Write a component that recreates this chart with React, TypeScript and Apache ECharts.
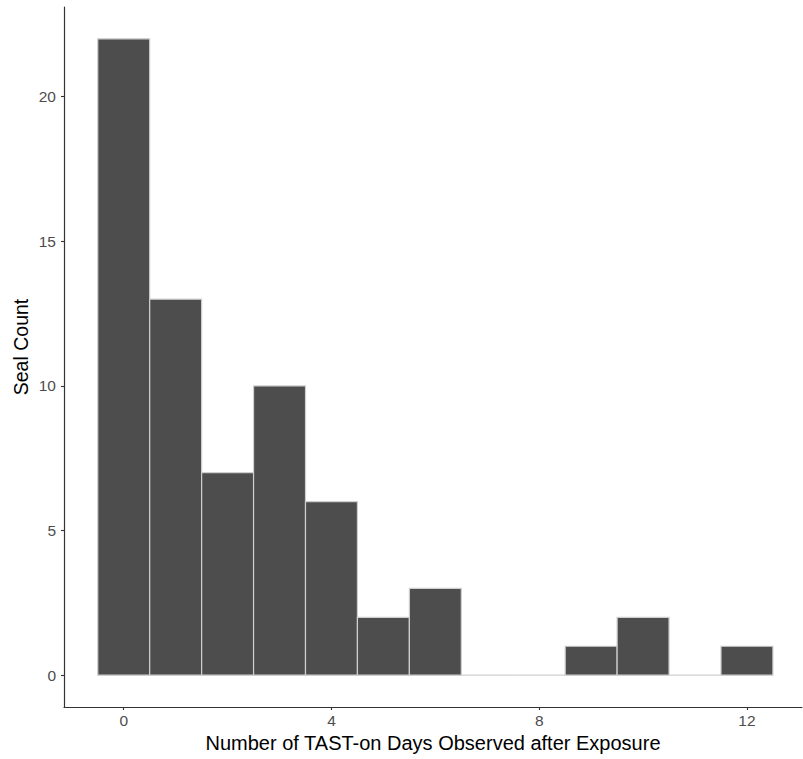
import React, { useEffect, useRef } from "react";
import * as echarts from "echarts";

const days = [0, 1, 2, 3, 4, 5, 6, 7, 8, 9, 10, 11, 12];
const counts = [22, 13, 7, 10, 6, 2, 3, 0, 0, 1, 2, 0, 1];
const xTicks = [0, 4, 8, 12];
const yTicks = [0, 5, 10, 15, 20];

const FONT = "Liberation Sans, Arial, Helvetica, sans-serif";

export default function App() {
  const ref = useRef<HTMLDivElement>(null);
  useEffect(() => {
    if (!ref.current) return;
    const chart = echarts.init(ref.current, null, { renderer: "svg" });
    chart.setOption({
      animation: false,
      backgroundColor: "#ffffff",
      grid: { left: 64, top: 7, width: 738, height: 700, containLabel: false },
      graphic: [
        {
          type: "text",
          x: 21,
          y: 347,
          rotation: Math.PI / 2,
          style: {
            text: "Seal Count",
            fontFamily: FONT,
            fontSize: 19.5,
            fill: "#000000",
            align: "center",
            verticalAlign: "middle",
          },
        },
      ],
      xAxis: {
        type: "value",
        min: -1.15,
        max: 13.06,
        name: "Number of TAST-on Days Observed after Exposure",
        nameLocation: "middle",
        nameGap: 25,
        nameTextStyle: { fontFamily: FONT, fontSize: 20, color: "#000000" },
        axisLine: { show: true, onZero: false, lineStyle: { color: "#333333", width: 1.2 } },
        axisTick: { show: true, length: 3, customValues: xTicks, lineStyle: { color: "#333333", width: 1.1 } },
        axisLabel: { customValues: xTicks, fontFamily: FONT, fontSize: 15.5, color: "#4d4d4d", margin: 5 },
        splitLine: { show: false },
      },
      yAxis: {
        type: "value",
        min: -1.1,
        max: 23.1,
        axisLine: { show: true, onZero: false, lineStyle: { color: "#333333", width: 1.2 } },
        axisTick: { show: true, length: 3, customValues: yTicks, lineStyle: { color: "#333333", width: 1.1 } },
        axisLabel: { customValues: yTicks, fontFamily: FONT, fontSize: 15.5, color: "#4d4d4d", margin: 8 },
        splitLine: { show: false },
      },
      series: [
        {
          type: "custom",
          data: days.map((d, i) => [d, counts[i]]),
          encode: { x: 0, y: 1 },
          renderItem: (params: any, api: any) => {
            const x = api.value(0);
            const y = api.value(1);
            const p0 = api.coord([x - 0.5, y]);
            const p1 = api.coord([x + 0.5, 0]);
            return {
              type: "rect",
              shape: { x: p0[0], y: p0[1], width: p1[0] - p0[0], height: p1[1] - p0[1] },
              style: { fill: "#4d4d4d", stroke: "#cfcfcf", lineWidth: 1.2 },
            };
          },
        },
      ],
    });
    return () => chart.dispose();
  }, []);
  return (
    <div
      ref={ref}
      style={{ position: "absolute", left: 0, top: 0, width: 803, height: 759 }}
    />
  );
}
